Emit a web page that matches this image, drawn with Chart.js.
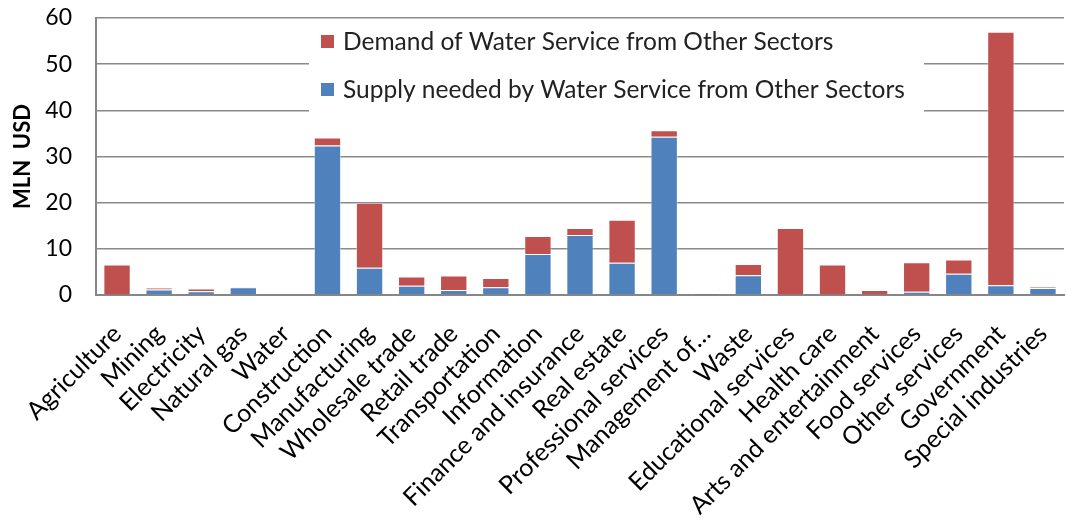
<!DOCTYPE html>
<html>
<head>
<meta charset="utf-8">
<title>Water service inter-sector flows</title>
<script src="https://cdn.jsdelivr.net/npm/chart.js@4.4.1/dist/chart.umd.min.js"></script>
<style>
    body { margin: 0; background: #fff; }
    #wrap { width: 1066px; height: 525px; }
</style>
</head>
<body>
<div id="wrap"><canvas id="waterChart" width="1066" height="525"></canvas></div>
<script>
// Sectors on the x axis
const sectors = [
    'Agriculture', 'Mining', 'Electricity', 'Natural gas', 'Water', 'Construction',
    'Manufacturing', 'Wholesale trade', 'Retail trade', 'Transportation', 'Information',
    'Finance and insurance', 'Real estate', 'Professional services', 'Management of\u2026',
    'Waste', 'Educational services', 'Health care', 'Arts and entertainment',
    'Food services', 'Other services', 'Government', 'Special industries'
];

// Values in MLN USD
const supplyNeeded = [0.1, 1.2, 0.8, 1.7, 0, 32.4, 5.9, 2.0, 1.1, 1.7, 8.9, 13.0, 7.0, 34.3, 0.1, 4.3, 0.1, 0.1, 0.1, 0.7, 4.6, 2.1, 1.5];
const demandOther = [6.5, 0.4, 0.6, 0.1, 0, 1.7, 14.1, 2.0, 3.1, 2.0, 3.9, 1.5, 9.3, 1.4, 0.25, 2.4, 14.4, 6.5, 1.0, 6.4, 3.1, 54.9, 0.3];

const yTicks = [0, 10, 20, 30, 40, 50, 60];

const RED = '#C0504D';
const BLUE = '#4F81BD';
const FONT = 'Lato, "Open Sans", sans-serif';

// Legend box drawn inside the plot, over the gridlines
const boxLegend = {
    id: 'boxLegend',
    afterDraw(chart) {
        const ctx = chart.ctx;
        const area = chart.chartArea;
        const x0 = area.left + 213;
        const y0 = area.top + 2;
        ctx.save();
        ctx.fillStyle = '#fff';
        ctx.fillRect(x0, y0, 615, 98);
        ctx.font = '24.5px ' + FONT;
        ctx.textBaseline = 'middle';
        const items = chart.data.datasets.slice().reverse();
        items.forEach((ds, i) => {
            const cy = y0 + 22 + i * 48;
            ctx.fillStyle = ds.backgroundColor;
            ctx.fillRect(x0 + 12, cy - 7, 13, 13);
            ctx.fillStyle = '#222';
            ctx.fillText(ds.label, x0 + 34, cy);
        });
        ctx.restore();
    }
};

const ctx = document.getElementById('waterChart').getContext('2d');
const waterChart = new Chart(ctx, {
    type: 'bar',
    data: {
        labels: sectors,
        datasets: [
            {
                label: 'Supply needed by Water Service from Other Sectors',
                data: supplyNeeded,
                backgroundColor: BLUE,
                borderColor: 'rgba(255,255,255,0.45)',
                borderWidth: 1
            },
            {
                label: 'Demand of Water Service from Other Sectors',
                data: demandOther,
                backgroundColor: RED,
                borderColor: 'rgba(255,255,255,0.45)',
                borderWidth: 1
            }
        ]
    },
    options: {
        responsive: false,
        animation: false,
        devicePixelRatio: 1,
        layout: { padding: { top: 0, right: 2, left: 0, bottom: 0 } },
        datasets: { bar: { categoryPercentage: 1, barPercentage: 0.65 } },
        plugins: {
            legend: { display: false },
            tooltip: { enabled: false }
        },
        scales: {
            x: {
                stacked: true,
                grid: { display: false, drawTicks: false },
                border: { color: '#868686', width: 2 },
                ticks: {
                    autoSkip: false,
                    minRotation: 45,
                    maxRotation: 45,
                    padding: 24,
                    color: '#000',
                    font: { family: FONT, size: 25 }
                },
                afterFit(scale) {
                    scale.height = 230;
                    scale.paddingLeft = 0;
                    scale.paddingRight = 0;
                }
            },
            y: {
                stacked: true,
                min: yTicks[0],
                max: yTicks[yTicks.length - 1],
                afterBuildTicks(scale) { scale.ticks = yTicks.map(v => ({ value: v })); },
                grid: { color: '#8a8a8a', lineWidth: 1.5, drawTicks: false },
                border: { color: '#868686', width: 2 },
                ticks: {
                    padding: 24,
                    color: '#000',
                    font: { family: FONT, size: 23 }
                },
                title: {
                    display: true,
                    text: 'MLN  USD',
                    color: '#000',
                    padding: { top: 10, bottom: 0 },
                    font: { family: FONT, size: 22, weight: 'bold' }
                },
                afterFit(scale) {
                    scale.width = 96;
                    scale.paddingTop = 18;
                    scale.paddingBottom = 0;
                }
            }
        }
    },
    plugins: [boxLegend]
});
</script>
</body>
</html>
